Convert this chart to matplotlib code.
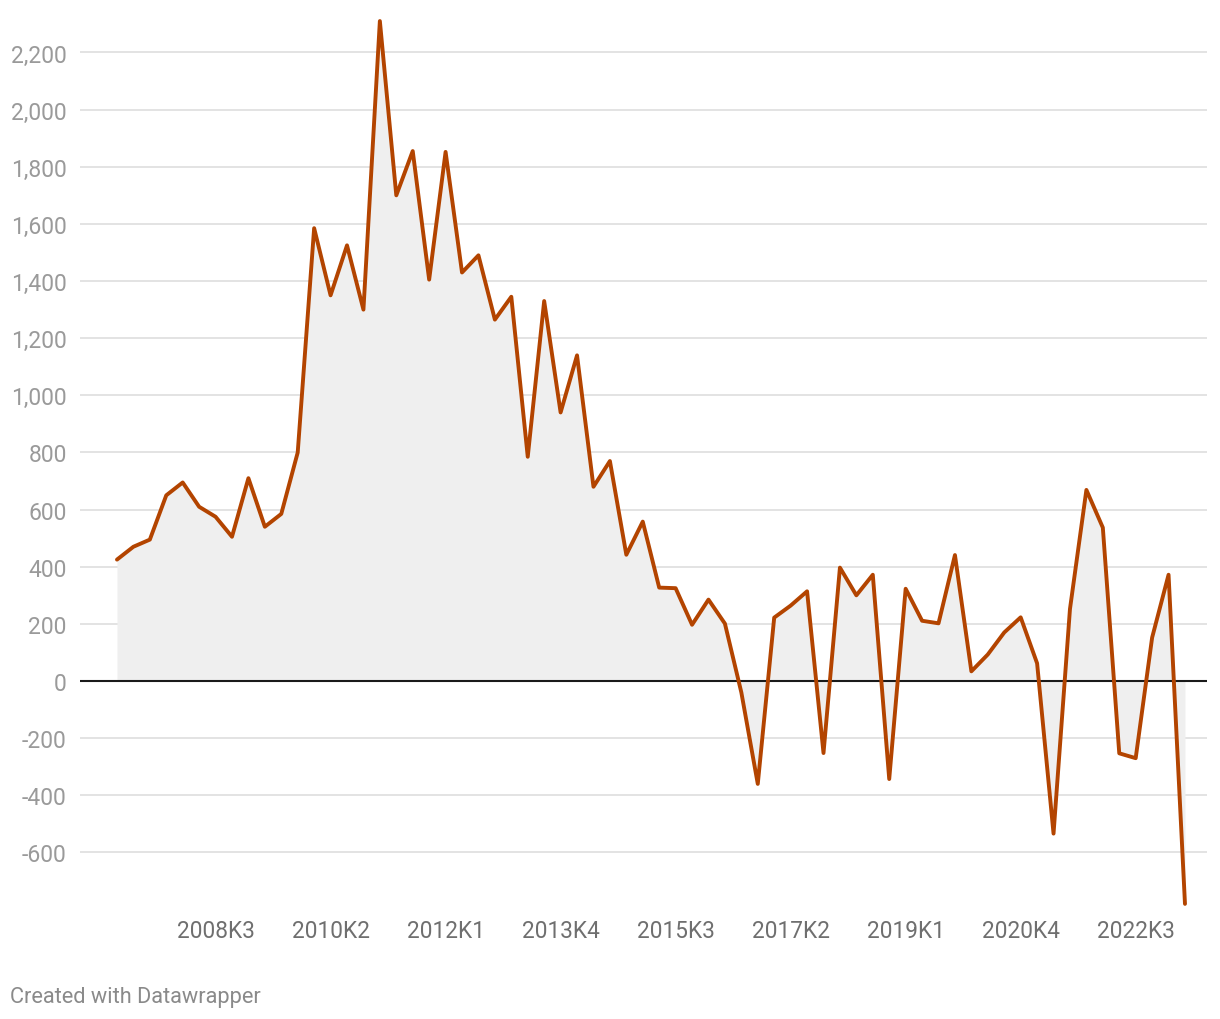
import matplotlib
matplotlib.use("Agg")
import matplotlib.pyplot as plt
import numpy as np

plt.rcParams['font.family'] = ['Roboto', 'DejaVu Sans']

quarters = [f"{y}K{q}" for y in range(2007, 2024) for q in range(1, 5)][:66]
values = [425, 470, 495, 650, 695, 610, 575, 505, 710, 540,
          585, 800, 1585, 1350, 1525, 1300, 2310, 1700, 1855, 1405,
          1852, 1430, 1490, 1265, 1345, 785, 1330, 940, 1140, 680,
          770, 442, 558, 327, 325, 197, 285, 201, -40, -360,
          222, 264, 314, -252, 397, 300, 372, -343, 323, 211,
          202, 441, 34, 93, 170, 223, 62, -534, 252, 669,
          537, -253, -270, 152, 372, -780]
tick_labels = ["2008K3", "2010K2", "2012K1", "2013K4", "2015K3",
               "2017K2", "2019K1", "2020K4", "2022K3"]
y_ticks = [-600, -400, -200, 0, 200, 400, 600, 800, 1000, 1200, 1400,
           1600, 1800, 2000, 2200]

W, H = 1220, 1020
fig = plt.figure(figsize=(W / 100, H / 100), dpi=100)
left, right = 80 / W, 1207 / W
top_px, bot_px = 19.2, 910.6
ax = fig.add_axes([left, (H - bot_px) / H, right - left, (bot_px - top_px) / H])

x = np.arange(len(values))
vals = np.array(values, dtype=float)
ax.fill_between(x, 0, vals, color="#efefef", lw=0, zorder=1)
ax.plot(x, vals, color="#b34400", lw=2.8, solid_joinstyle="round",
        solid_capstyle="round", zorder=4)
ax.axhline(0, color="#1a1a1a", lw=1.5, zorder=3)

ax.set_xlim(-2.25, 66.34)
ax.set_ylim(-800, 2320)

for t in y_ticks:
    if t != 0:
        ax.axhline(t, color="#e3e3e3", lw=1.4, zorder=0)
ax.set_yticks(y_ticks)
ax.set_yticklabels([f"{t:,}" for t in y_ticks])
ax.tick_params(axis='y', length=0, pad=9.5, labelsize=16.5, labelcolor="#9a9a9a")

tick_pos = [quarters.index(t) for t in tick_labels]
ax.set_xticks(tick_pos)
ax.set_xticklabels(tick_labels)
ax.tick_params(axis='x', length=0, pad=6.5, labelsize=16.3, labelcolor="#6f6f6f")

for s in ax.spines.values():
    s.set_visible(False)

fig.text(10 / W, 1 - 998 / H, "Created with Datawrapper", fontsize=15.7,
         color="#8a8a8a", ha="left", va="center")

fig.savefig("out.png", dpi=100)
